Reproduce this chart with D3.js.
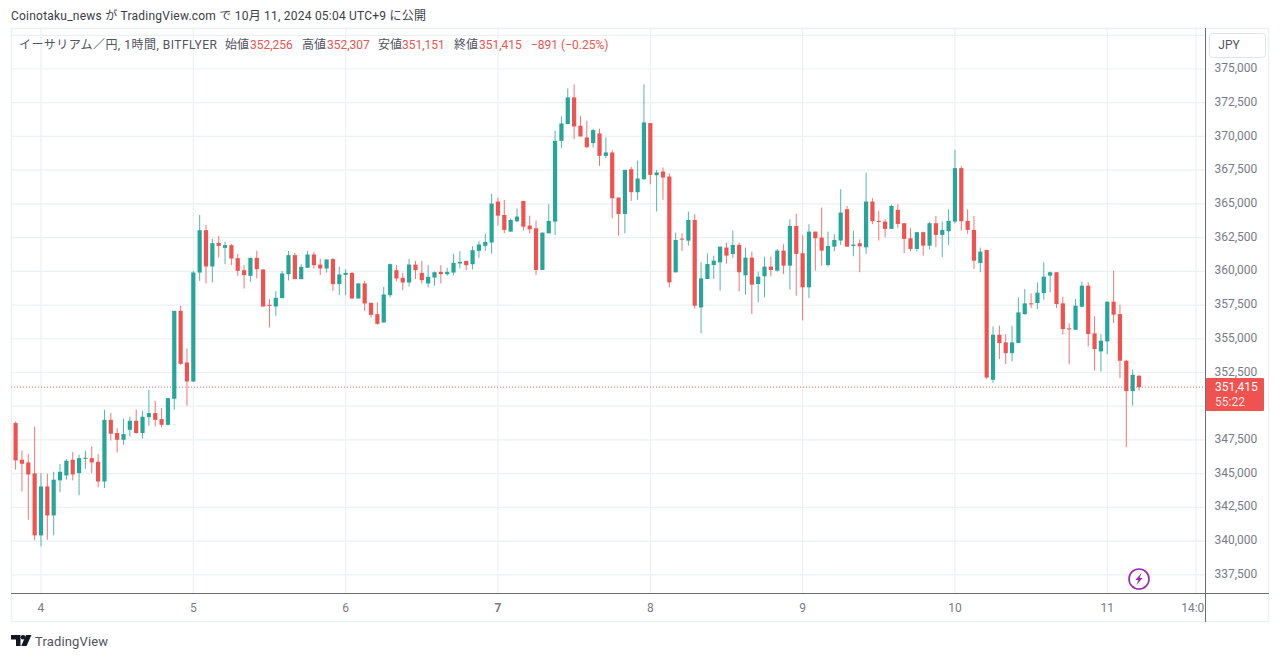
<!DOCTYPE html>
<html><head><meta charset="utf-8">
<script src="https://d3js.org/d3.v7.min.js"></script>
<style>
html,body{margin:0;padding:0;background:#fff;overflow:hidden}
svg{display:block}
text{font-family:"Roboto","Noto Sans CJK JP",sans-serif}
</style></head><body>
<svg id="c" width="1280" height="659"></svg>
<script>
const opens=[348750,346030,345830,345020,340420,344050,341900,344500,344870,346030,
345040,346100,346150,345880,344420,348990,348010,347510,348250,348920,
348010,349190,349490,349040,348620,350550,357070,353240,351830,359910,
363050,360360,362110,361740,361940,360975,360085,359665,361000,360135,
357515,357390,358010,359790,361200,359420,360260,361245,360500,360210,
360900,359050,359740,359885,357985,359100,357665,356825,356205,358230,
360085,359520,359170,360500,359885,359100,359540,359960,359790,359910,
360580,360775,360530,361520,361890,362135,365170,364180,362945,363710,
365220,363390,363190,360100,362820,363685,369675,370915,372895,370790,
369925,369505,370220,368560,368810,365470,364255,367570,365865,366830,
370990,367125,367400,367030,359925,362425,362275,363810,357325,359430,
360470,360665,361760,361290,361960,359705,361015,359060,359630,360350,
360050,361535,360420,363365,361340,358815,362945,362500,360470,361830,
362280,364605,361880,362080,361780,365175,363740,363690,363145,364555,
363565,362450,361660,362900,361905,363565,362700,362970,363690,367650,
363740,363070,360620,361585,351957,355300,354730,353935,354680,356830,
357625,357650,358390,359680,359930,357625,355770,355670,357375,358935,
355400,354060,354805,357750,356830,353370,351115,352256];
const closes=[345980,345730,344940,340420,344050,341900,344550,345140,345960,344940,
346150,346180,345830,344420,348990,347960,347510,347930,348920,348010,
349220,349490,348990,348620,350600,357070,353140,351830,359910,363050,
360360,362085,361890,361940,360950,360035,359715,361000,360160,357390,
357440,358035,359840,361200,359420,360330,361245,360455,360210,360875,
359050,359765,359885,357985,359100,357615,356775,356110,358280,360530,
359470,359170,360500,360085,359345,359590,359935,359790,359960,360630,
360700,360455,361565,361985,362180,365025,364130,363070,363810,364060,
363315,363115,360100,362870,363735,369675,370960,372895,370740,370000,
369205,370470,368560,368810,365420,364255,367520,365865,366880,371040,
367150,367325,366955,359180,362325,362350,363810,357450,359480,360540,
360790,361830,361165,361960,359930,361015,359010,359605,360350,360100,
361535,360420,363365,361290,358815,362945,362450,361535,361880,362325,
364355,361830,361980,361855,365175,363715,363665,363145,364850,363515,
362400,361660,362900,361905,363565,362700,363070,363740,367650,363715,
363070,360790,361460,352130,355300,354680,353935,354730,356955,357625,
357575,358415,359605,359930,357575,355720,355695,357450,358935,355350,
354235,354855,357750,356785,353370,351115,352330,351415];
const highs=[348870,346700,346450,348480,345040,345000,345140,345710,346080,346600,
346400,346700,347020,346450,349740,349490,348370,349070,349220,349740,
349660,351220,350400,349860,350600,357070,357440,354280,360030,364180,
363440,362406,362630,362180,362040,361295,360455,361000,361520,360160,
357935,358530,360010,361520,361370,360530,361520,361440,360925,360900,
361000,360330,360160,359935,359150,359300,357665,357690,358850,360580,
360455,359885,360925,360775,360775,360455,359985,360455,360260,361295,
361490,360775,361860,362230,362800,365740,365470,365295,363910,364650,
365220,364130,363760,362870,364975,370420,371480,373560,373860,371530,
371160,370570,370570,369925,368985,365470,367520,367745,368215,373860,
370990,367520,367695,367250,362870,362820,364430,364230,360665,361335,
361160,361830,362130,363020,362130,361760,361460,359975,361090,361090,
361660,362005,363860,364280,362675,363490,362945,364730,362945,362750,
366090,364850,363020,362375,367325,365420,364480,363860,364950,364975,
363565,363195,362900,362945,363665,364110,363690,364605,369000,367795,
364605,364110,361760,361585,355920,355965,355350,355965,358070,358690,
358370,359185,360670,359975,359930,358120,356140,357945,359235,359185,
356660,355350,357750,360050,357525,353440,352700,352307];
const lows=[345290,343680,341580,340050,339610,340100,340420,343630,344550,344500,
343390,345360,345040,343980,343930,347460,346570,347140,347760,347960,
347610,348550,348500,348430,348570,349740,353070,350030,351830,359290,
359100,359170,361020,360530,360455,359665,358725,359220,359470,357390,
355840,356700,358010,359320,359420,359420,360260,360210,359715,359910,
358550,358230,358230,357985,357985,357070,356580,356035,356205,358060,
359270,358600,358875,359420,359100,358800,358925,359100,359665,359715,
360210,360085,360135,361000,361520,361320,363390,362820,362945,363635,
363020,362820,359725,360100,362820,362695,369130,370915,369800,370000,
369130,369180,367820,368390,363935,362645,362820,365220,365295,366780,
366460,364430,365295,358810,359925,361510,361905,357250,355395,359430,
359430,358565,360570,360990,358515,358270,356830,357700,358070,359630,
359975,359800,358640,358195,356360,358020,360050,360420,360345,361485,
361955,361830,361115,359930,361290,363490,362280,362525,363145,363220,
361335,361485,361485,361165,361610,361780,361040,361955,363540,363020,
362775,360175,359930,352005,351710,353490,353120,353320,354680,356785,
357280,357205,357895,358440,357280,355300,353120,355670,357330,354430,
352650,352575,353865,356165,352080,346960,350050,351151];
const gridPrices=[337500,340000,342500,345000,347500,350000,352500,355000,357500,360000,362500,365000,367500,370000,372500,375000,377500];
const priceLabels=[337500,340000,342500,345000,347500,352500,355000,357500,360000,362500,365000,367500,370000,372500,375000];
const timeTickIndex=[4,28,52,76,100,124,148,172,186];
const timeTickLabels=["4","5","6","7","8","9","10","11","14:00"];
const lastPrice=351415;
const countdown="55:22";
const publishLine="Coinotaku_news が TradingView.com で 10月 11, 2024 05:04 UTC+9 に公開";
const symbolLine="イーサリアム／円, 1時間, BITFLYER";
const ohlcNames=["始値","高値","安値","終値"];
const ohlcValues=["352,256","352,307","351,151","351,415"];
const changeText="−891 (−0.25%)";

const GREEN="#26a69a",RED="#ef5350",GRID="#ecf1f4",AXIS="#787b86",TXT="#50535e";
const L=11,R=1269,T=28,B=622,AX=1205,AY=593.5;
const svg=d3.select("#c");
const x=d3.scaleLinear().domain([0,177]).range([15.6,1139]);
const y=d3.scaleLinear().domain([337500,375000]).range([574.8,69]);
const defs=svg.append("defs");
defs.append("clipPath").attr("id","plot").append("rect").attr("x",L).attr("y",T).attr("width",AX-L).attr("height",AY-T);
defs.append("clipPath").attr("id","time0").append("rect").attr("x",L).attr("y",0).attr("width",AX-L).attr("height",60);

// frame
svg.append("rect").attr("x",L+.5).attr("y",T+.5).attr("width",R-L-1).attr("height",B-T-1).attr("fill","#fff").attr("stroke",GRID).attr("stroke-width",1.5);

// grid
const gridG=svg.append("g").attr("clip-path","url(#plot)");
gridG.selectAll("line.h").data(gridPrices).join("line").attr("class","h")
 .attr("x1",L).attr("x2",AX).attr("y1",d=>y(d)).attr("y2",d=>y(d)).attr("stroke",GRID).attr("stroke-width",1.2);
gridG.selectAll("line.v").data(timeTickIndex).join("line").attr("class","v")
 .attr("x1",d=>x(d)).attr("x2",d=>x(d)).attr("y1",T).attr("y2",AY).attr("stroke",GRID).attr("stroke-width",1.2);

// last price dotted
svg.append("line").attr("x1",L).attr("x2",AX).attr("y1",y(lastPrice)).attr("y2",y(lastPrice))
 .attr("stroke",RED).attr("stroke-dasharray","1 2").attr("stroke-opacity",.9);

// candles
const idx=d3.range(opens.length);
const cw=4.2;
const cG=svg.append("g").attr("clip-path","url(#plot)");
const col=i=>closes[i]>=opens[i]?GREEN:RED;
cG.selectAll("line.w").data(idx).join("line").attr("class","w")
 .attr("x1",i=>x(i)).attr("x2",i=>x(i)).attr("y1",i=>y(highs[i])).attr("y2",i=>y(lows[i]))
 .attr("stroke",col).attr("stroke-width",1).attr("stroke-opacity",.8);
cG.selectAll("rect.b").data(idx).join("rect").attr("class","b")
 .attr("x",i=>x(i)-cw/2).attr("width",cw)
 .attr("y",i=>y(Math.max(opens[i],closes[i])))
 .attr("height",i=>Math.max(1,Math.abs(y(opens[i])-y(closes[i]))))
 .attr("fill",col);

// axes lines
svg.append("line").attr("x1",AX+.5).attr("x2",AX+.5).attr("y1",T).attr("y2",B).attr("stroke","#6a6d78");
svg.append("line").attr("x1",L).attr("x2",R).attr("y1",AY).attr("y2",AY).attr("stroke","#6a6d78");

// price axis
const fmt=d3.format(",");
const pAxis=d3.axisRight(y).tickValues(priceLabels).tickFormat(fmt).tickSize(0).tickPadding(0);
const pg=svg.append("g").attr("transform",`translate(1214.5,-1.5)`).call(pAxis);
pg.select(".domain").remove();
pg.selectAll("text").attr("font-size",12).attr("fill",AXIS).style("font-family",'"Roboto",sans-serif').attr("dy","0.34em").attr("x",0);

// time axis
const tAxis=d3.axisBottom(x).tickValues(timeTickIndex)
 .tickFormat((d,i)=>timeTickLabels[i]).tickSize(0).tickPadding(0);
const tg=svg.append("g").attr("transform",`translate(-0.5,${AY})`).attr("clip-path","url(#time0)").call(tAxis);
tg.select(".domain").remove();
tg.selectAll("text").attr("font-size",12).attr("fill",AXIS).attr("y",14).attr("dy","0.34em")
 .style("font-family",'"Roboto",sans-serif').attr("font-weight",(d,i)=>timeTickLabels[i]==="7"?700:400);

// JPY button
svg.append("rect").attr("x",1209.5).attr("y",33.5).attr("width",56).attr("height",24).attr("rx",3).attr("fill","#fff").attr("stroke","#e0e3eb");
svg.append("text").attr("x",1229).attr("y",49).attr("text-anchor","middle").attr("font-size",12).attr("fill",TXT).text("JPY");

// price label
svg.append("rect").attr("x",1206).attr("y",378).attr("width",58).attr("height",33).attr("rx",1).attr("fill",RED);
svg.append("text").attr("x",1215).attr("y",391).attr("font-size",12).attr("fill","#fff").attr("font-weight",400).text(fmt(lastPrice));
svg.append("text").attr("x",1215).attr("y",406).attr("font-size",12).attr("fill","#fff").attr("fill-opacity",.85).text(countdown);

// lightning icon
const ic=svg.append("g").attr("transform",`translate(${x(177)},579)`);
ic.append("circle").attr("r",10).attr("fill","#fff").attr("stroke","#9c27b0").attr("stroke-width",1.6);
ic.append("path").attr("d","M2.6,-6 L-3.6,1 L-0.6,1 L-2.6,6 L3.6,-1 L0.6,-1 Z").attr("fill","#9c27b0");

// header texts
svg.append("text").attr("x",11).attr("y",20).attr("font-size",12).attr("fill","#3a3d46").attr("textLength",415).attr("lengthAdjust","spacing").text(publishLine);
const lg=svg.append("g").attr("font-size",12);
lg.append("text").attr("x",19).attr("y",49).attr("fill",TXT).attr("textLength",198).attr("lengthAdjust","spacing").text(symbolLine);
const nameX=[225,302,378,454],valX=[250,327,402,479];
ohlcNames.forEach((n,i)=>{
 lg.append("text").attr("x",nameX[i]).attr("y",49).attr("fill",TXT).text(n);
 lg.append("text").attr("x",valX[i]).attr("y",49).attr("fill",RED).text(ohlcValues[i]);
});
lg.append("text").attr("x",531).attr("y",49).attr("fill",RED).text(changeText);

// logo
const lo=svg.append("g").attr("transform","translate(11,635)").attr("fill","#131722");
lo.append("path").attr("d","M0,0H9.5V11H5V4.5H0Z");
lo.append("circle").attr("cx",12).attr("cy",2.3).attr("r",2.3);
lo.append("path").attr("d","M15,0H20.5L15.5,11H10.2Z");
svg.append("text").attr("x",35).attr("y",645.5).attr("font-size",13).attr("fill","#50535e").attr("textLength",73).attr("lengthAdjust","spacing").text("TradingView");
</script></body></html>
